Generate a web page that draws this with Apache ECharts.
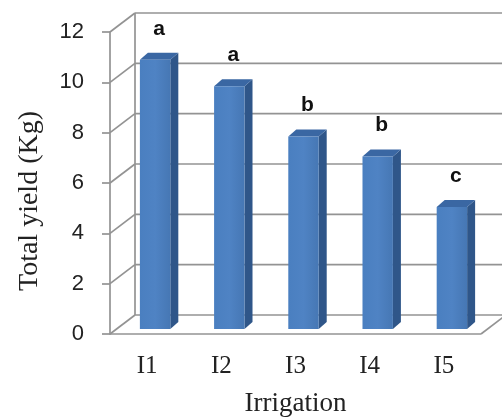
<!DOCTYPE html>
<html>
<head>
<meta charset="utf-8">
<script src="https://cdn.jsdelivr.net/npm/echarts@6/dist/echarts.min.js"></script>
<style>html,body{margin:0;padding:0;background:#fff}#c{width:502px;height:418px}</style>
</head>
<body>
<div id="c"></div>
<script>
var categories = ['I1', 'I2', 'I3', 'I4', 'I5'];
var yieldValues = [10.7, 9.65, 7.65, 6.85, 4.85];
var letters = ['a', 'a', 'b', 'b', 'c'];
var yTicks = [0, 2, 4, 6, 8, 10, 12];

var GRID = '#939393';
var WDX = 25, WDY = -19;   // wall depth offset
var FX = 8, FY = -5;       // bar front plane offset
var BX = 8, BY = -7;       // bar depth

var chart = echarts.init(document.getElementById('c'));

function wallItem(params, api) {
  var cs = params.coordSys;
  var v = api.value(0);
  var y = api.coord([0, v])[1];
  var x0 = cs.x, w = cs.width;
  var st = {stroke: GRID, lineWidth: 1.7, fill: null};
  var ch = [
    {type: 'line', shape: {x1: x0, y1: y, x2: x0 + WDX, y2: y + WDY}, style: st},
    {type: 'line', shape: {x1: x0 + WDX, y1: y + WDY, x2: x0 + w + WDX + 40, y2: y + WDY}, style: st}
  ];
  if (v === 0) {
    ch.push({type: 'line', shape: {x1: x0, y1: y, x2: x0 + w, y2: y}, style: st});
    ch.push({type: 'line', shape: {x1: x0 + w, y1: y, x2: x0 + w + WDX, y2: y + WDY}, style: st});
    ch.push({type: 'line', shape: {x1: x0 + WDX, y1: y + WDY, x2: x0 + WDX, y2: cs.y + WDY}, style: st});
  }
  return {type: 'group', children: ch};
}

function barItem(params, api) {
  var i = api.value(0), v = api.value(1);
  var c = api.coord([i, v]);
  var b = api.coord([i, 0]);
  var bw = api.size([1, 0])[0] * 0.41;
  var left = c[0] - bw / 2 + FX, right = left + bw;
  var top = c[1] + FY, bottom = b[1] + FY;
  return {type: 'group', children: [
    {type: 'polygon', shape: {points: [[right, top], [right + BX, top + BY], [right + BX, bottom + BY], [right, bottom]]},
      style: {fill: '#2f5689'}},
    {type: 'polygon', shape: {points: [[left, top], [left + BX, top + BY], [right + BX, top + BY], [right, top]]},
      style: {fill: '#3a67a3'}},
    {type: 'rect', shape: {x: left, y: top, width: bw, height: bottom - top},
      style: {fill: new echarts.graphic.LinearGradient(0, 0, 1, 0, [
        {offset: 0, color: '#4a7fc0'}, {offset: 0.5, color: '#4f83c4'}, {offset: 1, color: '#4677b4'}])}},
    {type: 'text', style: {text: letters[params.dataIndex], x: (left + right) / 2 + BX / 2, y: top - 31,
      align: 'center', verticalAlign: 'middle', fill: '#111',
      font: 'bold 21px "Liberation Sans", Arial, sans-serif'}}
  ]};
}

chart.setOption({
  animation: false,
  grid: {left: 110, right: 21, top: 32, bottom: 84, outerBoundsMode: 'none', containLabel: false},
  xAxis: {
    type: 'category', data: categories,
    axisLine: {show: false}, axisTick: {show: false},
    axisLabel: {margin: 20, color: '#222', fontFamily: 'Liberation Serif', fontSize: 25},
    name: 'Irrigation', nameLocation: 'middle', nameGap: 56,
    nameTextStyle: {color: '#222', fontFamily: 'Liberation Serif', fontSize: 27}
  },
  yAxis: {
    type: 'value', min: 0, max: 12, interval: 2,
    axisLine: {show: true, lineStyle: {color: GRID, width: 1.7}},
    axisTick: {show: true, length: 8, lineStyle: {color: GRID, width: 1.7}},
    splitLine: {show: false},
    axisLabel: {margin: 26, color: '#222', fontFamily: 'Liberation Sans', fontSize: 22},
    name: 'Total yield (Kg)', nameLocation: 'middle', nameGap: 66, nameRotate: 90,
    nameTextStyle: {color: '#222', fontFamily: 'Liberation Serif', fontSize: 28, padding: [0, 36, 0, 0]}
  },
  series: [
    {type: 'custom', renderItem: wallItem, data: yTicks.map(function (t) { return [t]; }),
      encode: {y: 0}, silent: true, z: 1},
    {type: 'custom', renderItem: barItem,
      data: yieldValues.map(function (v, i) { return [i, v]; }),
      encode: {x: 0, y: 1}, z: 2}
  ]
});
</script>
</body>
</html>
